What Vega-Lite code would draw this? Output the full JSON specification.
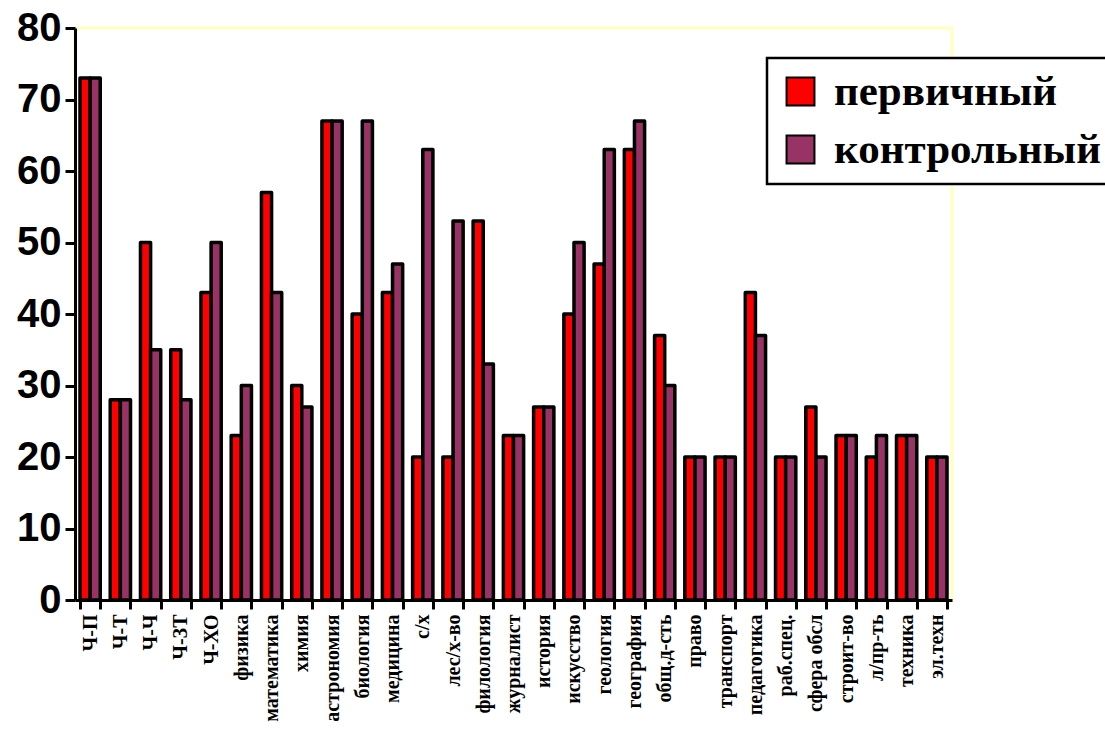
{
  "$schema": "https://vega.github.io/schema/vega-lite/v6.json",
  "autosize": {"type": "none"},
  "width": 877,
  "height": 572,
  "padding": {"left": 75, "top": 28, "right": 153, "bottom": 134},
  "background": "white",
  "config": {
    "view": {"stroke": "#FFFFC0", "strokeWidth": 3},
    "axis": {"domainColor": "black", "domainWidth": 3, "tickColor": "black", "tickWidth": 3, "grid": false},
    "legend": {"strokeWidth": 2.5}
  },
  "data": {
    "values": [
      {"category": "Ч-П", "series": "первичный", "value": 73}, {"category": "Ч-П", "series": "контрольный", "value": 73},
      {"category": "Ч-Т", "series": "первичный", "value": 28}, {"category": "Ч-Т", "series": "контрольный", "value": 28},
      {"category": "Ч-Ч", "series": "первичный", "value": 50}, {"category": "Ч-Ч", "series": "контрольный", "value": 35},
      {"category": "Ч-ЗТ", "series": "первичный", "value": 35}, {"category": "Ч-ЗТ", "series": "контрольный", "value": 28},
      {"category": "Ч-ХО", "series": "первичный", "value": 43}, {"category": "Ч-ХО", "series": "контрольный", "value": 50},
      {"category": "физика", "series": "первичный", "value": 23}, {"category": "физика", "series": "контрольный", "value": 30},
      {"category": "математика", "series": "первичный", "value": 57}, {"category": "математика", "series": "контрольный", "value": 43},
      {"category": "химия", "series": "первичный", "value": 30}, {"category": "химия", "series": "контрольный", "value": 27},
      {"category": "астрономия", "series": "первичный", "value": 67}, {"category": "астрономия", "series": "контрольный", "value": 67},
      {"category": "биология", "series": "первичный", "value": 40}, {"category": "биология", "series": "контрольный", "value": 67},
      {"category": "медицина", "series": "первичный", "value": 43}, {"category": "медицина", "series": "контрольный", "value": 47},
      {"category": "с/х", "series": "первичный", "value": 20}, {"category": "с/х", "series": "контрольный", "value": 63},
      {"category": "лес/х-во", "series": "первичный", "value": 20}, {"category": "лес/х-во", "series": "контрольный", "value": 53},
      {"category": "филология", "series": "первичный", "value": 53}, {"category": "филология", "series": "контрольный", "value": 33},
      {"category": "журналист", "series": "первичный", "value": 23}, {"category": "журналист", "series": "контрольный", "value": 23},
      {"category": "история", "series": "первичный", "value": 27}, {"category": "история", "series": "контрольный", "value": 27},
      {"category": "искусство", "series": "первичный", "value": 40}, {"category": "искусство", "series": "контрольный", "value": 50},
      {"category": "геология", "series": "первичный", "value": 47}, {"category": "геология", "series": "контрольный", "value": 63},
      {"category": "география", "series": "первичный", "value": 63}, {"category": "география", "series": "контрольный", "value": 67},
      {"category": "общ.д-сть", "series": "первичный", "value": 37}, {"category": "общ.д-сть", "series": "контрольный", "value": 30},
      {"category": "право", "series": "первичный", "value": 20}, {"category": "право", "series": "контрольный", "value": 20},
      {"category": "транспорт", "series": "первичный", "value": 20}, {"category": "транспорт", "series": "контрольный", "value": 20},
      {"category": "педагогика", "series": "первичный", "value": 43}, {"category": "педагогика", "series": "контрольный", "value": 37},
      {"category": "раб.спец.", "series": "первичный", "value": 20}, {"category": "раб.спец.", "series": "контрольный", "value": 20},
      {"category": "сфера обсл", "series": "первичный", "value": 27}, {"category": "сфера обсл", "series": "контрольный", "value": 20},
      {"category": "строит-во", "series": "первичный", "value": 23}, {"category": "строит-во", "series": "контрольный", "value": 23},
      {"category": "л/пр-ть", "series": "первичный", "value": 20}, {"category": "л/пр-ть", "series": "контрольный", "value": 23},
      {"category": "техника", "series": "первичный", "value": 23}, {"category": "техника", "series": "контрольный", "value": 23},
      {"category": "эл.техн", "series": "первичный", "value": 20}, {"category": "эл.техн", "series": "контрольный", "value": 20}
    ]
  },
  "mark": {"type": "bar", "stroke": "black", "strokeWidth": 3.5, "strokeJoin": "round"},
  "encoding": {
    "x": {
      "field": "category", "type": "nominal", "sort": null,
      "scale": {"paddingInner": 0.33, "paddingOuter": 0.165},
      "axis": {
        "title": null, "labelAngle": -90, "labelAlign": "right", "labelBaseline": "middle",
        "labelFont": "Liberation Serif", "labelFontWeight": "bold", "labelFontSize": 20, "labelColor": "black",
        "labelPadding": 5, "tickBand": "extent", "tickSize": 9, "labelLimit": 200
      }
    },
    "y": {
      "field": "value", "type": "quantitative",
      "scale": {"domain": [0, 80], "nice": false},
      "axis": {
        "title": null, "values": [0, 10, 20, 30, 40, 50, 60, 70, 80],
        "labelFont": "Liberation Sans", "labelFontWeight": "bold", "labelFontSize": 40, "labelColor": "black",
        "tickSize": 10, "labelPadding": 4
      }
    },
    "xOffset": {"field": "series", "type": "nominal", "sort": null},
    "color": {
      "field": "series", "type": "nominal",
      "scale": {"domain": ["первичный", "контрольный"], "range": ["#FF0000", "#993366"]},
      "legend": {
        "title": null, "orient": "none", "legendX": 692, "legendY": 30,
        "symbolType": "square", "symbolSize": 780, "symbolStrokeColor": "black", "symbolStrokeWidth": 2,
        "labelFont": "Liberation Serif", "labelFontWeight": "bold", "labelFontSize": 43, "labelColor": "black",
        "labelLimit": 400, "labelOffset": 12, "rowPadding": 14,
        "strokeColor": "black", "fillColor": "white", "padding": 12
      }
    }
  }
}
